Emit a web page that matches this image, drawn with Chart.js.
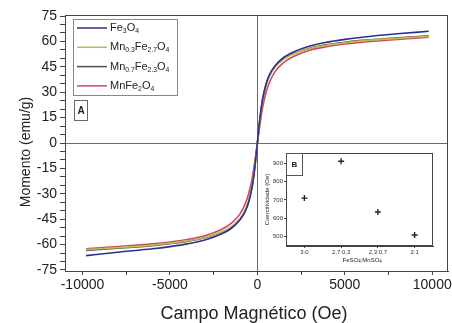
<!DOCTYPE html>
<html>
<head>
<meta charset="utf-8">
<script src="https://cdn.jsdelivr.net/npm/chart.js@4.4.0/dist/chart.umd.min.js"></script>
<style>
  html,body{margin:0;padding:0;background:#fff;}
  #wrap{position:relative;width:452px;height:323px;}
  #main{position:absolute;left:0;top:0;}
  #inset{position:absolute;left:255px;top:145px;}
</style>
</head>
<body>
<div id="wrap">
  <canvas id="main" width="452" height="323"></canvas>
  <canvas id="inset" width="190" height="125"></canvas>
</div>
<script>
// ---- Data ----
const fieldOe = [-9800,-8000,-6000,-5000,-4000,-3000,-2000,-1500,-1000,-700,-500,-300,-150,0,150,300,500,700,1000,1500,2000,3000,4000,5000,6000,8000,9800];
const seriesNames = ["Fe3O4", "Mn0.3Fe2.7O4", "Mn0.7Fe2.3O4", "MnFe2O4"];
const momentFe3O4   = [-66.5,-64.5,-62.5,-61.2,-59.6,-57.3,-53.5,-50.5,-45.5,-40.5,-35,-26,-15,0,15,26,35,40.5,45.5,50.5,53.5,57.3,59.6,61.2,62.5,64.5,66];
const momentMn03    = [-63,-61.8,-60.3,-59.2,-57.8,-55.8,-52.3,-49.5,-44.8,-39.8,-34.2,-25,-14,0,14,25,34.2,39.8,44.8,49.5,52.3,55.8,57.8,59.2,60.3,61.8,63];
const momentMn07    = [-63.5,-62.2,-60.6,-59.5,-58.1,-56,-52.5,-49.7,-45,-40,-34.5,-25.5,-14.5,0,14.5,25.5,34.5,40,45,49.7,52.5,56,58.1,59.5,60.6,62.2,63.3];
const momentMnFe2O4 = [-62.5,-61.2,-59.6,-58.5,-57,-54.8,-50.8,-47.5,-42,-36,-30,-21,-11,0,11,21,30,36,42,47.5,50.8,54.8,57,58.5,59.6,61.2,62.5];
const yTickLabels = [-75,-60,-45,-30,-15,0,15,30,45,60,75];
const xTickLabels = [-10000,-5000,0,5000,10000];

const insetCategories = ["3:0", "2,7:0,3", "2,3:0,7", "2:1"];
const coercivity = [710, 910, 635, 510];
const insetYTicks = [500, 600, 700, 800, 900];

const colors = ["#2f2f8f", "#b9bb55", "#505050", "#d0485a"];
const FONT = "'Liberation Sans', Arial, sans-serif";

function toPoints(ys){ return fieldOe.map((x,i)=>({x:x, y:ys[i]})); }
const allSeries = [momentFe3O4, momentMn03, momentMn07, momentMnFe2O4];

// draw chemical formula with subscripted numbers
function drawFormula(ctx, text, x, y, size){
  const parts = text.match(/[A-Za-z]+|[0-9.]+/g);
  let cx = x;
  parts.forEach(p=>{
    if (/^[0-9.]/.test(p)) {
      ctx.font = (size*0.62)+"px "+FONT;
      ctx.fillText(p, cx, y + size*0.3);
    } else {
      ctx.font = size+"px "+FONT;
      ctx.fillText(p, cx, y);
    }
    cx += ctx.measureText(p).width;
  });
}

const decor = {
  id: 'decor',
  beforeDatasetsDraw(chart){
    const {ctx, chartArea:a, scales:{x, y}} = chart;
    ctx.save();
    ctx.strokeStyle = '#6a6a6a';
    ctx.lineWidth = 1;
    const x0 = Math.round(x.getPixelForValue(0))+0.5;
    const y0 = Math.round(y.getPixelForValue(0))+0.5;
    ctx.beginPath();
    ctx.moveTo(x0, a.top); ctx.lineTo(x0, a.bottom);
    ctx.moveTo(a.left, y0); ctx.lineTo(a.right, y0);
    ctx.stroke();
    ctx.restore();
  },
  afterDraw(chart){
    const {ctx, chartArea:a} = chart;
    ctx.save();
    // frame
    ctx.strokeStyle = '#444';
    ctx.lineWidth = 1;
    ctx.strokeRect(a.left+0.5, a.top+0.5, a.right-a.left-1, a.bottom-a.top);
    // legend box
    ctx.strokeStyle = '#888';
    ctx.strokeRect(73.5, 19.5, 104, 76);
    chart.data.datasets.forEach((ds,i)=>{
      const yy = 28 + i*19.3;
      ctx.strokeStyle = ds.borderColor;
      ctx.lineWidth = 1.5;
      ctx.beginPath(); ctx.moveTo(77, yy); ctx.lineTo(107, yy); ctx.stroke();
      ctx.fillStyle = '#222';
      ctx.textBaseline = 'middle';
      ctx.textAlign = 'left';
      drawFormula(ctx, ds.label, 110, yy, 11);
    });
    // "A" box
    ctx.lineWidth = 1;
    ctx.strokeStyle = '#666';
    ctx.strokeRect(74.5, 100.5, 13, 20);
    ctx.fillStyle = '#222';
    ctx.font = "bold 10px "+FONT;
    ctx.textAlign = 'center'; ctx.textBaseline = 'middle';
    ctx.fillText("A", 81, 111);
    // axis titles
    ctx.font = "18px "+FONT;
    ctx.fillStyle = '#222';
    ctx.fillText("Campo Magnético (Oe)", 254, 314);
    ctx.font = "14px "+FONT;
    ctx.translate(26, 152);
    ctx.rotate(-Math.PI/2);
    ctx.fillText("Momento (emu/g)", 0, 0);
    ctx.restore();
  }
};

new Chart(document.getElementById('main'), {
  type: 'line',
  data: {
    datasets: allSeries.map((s,i)=>({
      label: seriesNames[i],
      data: toPoints(s),
      borderColor: colors[i],
      backgroundColor: colors[i],
      borderWidth: 1.6,
      pointRadius: 0,
      cubicInterpolationMode: 'monotone',
      fill: false
    }))
  },
  options: {
    responsive: false,
    animation: false,
    devicePixelRatio: 1,
    layout: { padding: { top: 15, right: 4, left: 0, bottom: 0 } },
    plugins: { legend: { display: false }, tooltip: { enabled: false } },
    scales: {
      x: {
        type: 'linear', min: -11000, max: 10900,
        afterFit(s){ s.height = 52; s.paddingRight = 0; s.paddingLeft = 0; },
        afterBuildTicks(s){
          const t = [];
          for (let v=-10000; v<=10000; v+=2500) t.push({value:v});
          s.ticks = t;
        },
        ticks: {
          autoSkip: false, maxRotation: 0, padding: 2,
          color: '#222', font: { family: FONT, size: 14 },
          callback: v => xTickLabels.includes(v) ? String(v) : ''
        },
        grid: { display: true, drawOnChartArea: false, tickLength: 4, color: '#444' },
        border: { display: true, color: '#444' }
      },
      y: {
        type: 'linear', min: -75.6, max: 75.6,
        afterFit(s){ s.width = 65; s.paddingTop = 0; s.paddingBottom = 0; },
        afterBuildTicks(s){
          const t = [];
          for (let v=-75; v<=75; v+=5) t.push({value:v});
          s.ticks = t;
        },
        ticks: {
          autoSkip: false, padding: 3,
          color: '#222', font: { family: FONT, size: 14 },
          callback: v => yTickLabels.includes(v) ? String(v) : ''
        },
        grid: { display: true, drawOnChartArea: false, tickLength: 5, color: '#444' },
        border: { display: true, color: '#444' }
      }
    }
  },
  plugins: [decor]
});

// ---- Inset chart B ----
const insetDecor = {
  id: 'insetDecor',
  beforeDraw(chart){
    const {ctx, chartArea:a} = chart;
    ctx.save();
    ctx.fillStyle = '#fff';
    ctx.fillRect(a.left, a.top, a.right-a.left, a.bottom-a.top);
    ctx.restore();
  },
  afterDraw(chart){
    const {ctx, chartArea:a} = chart;
    ctx.save();
    ctx.strokeStyle = '#444'; ctx.lineWidth = 1;
    ctx.strokeRect(a.left+0.5, a.top+0.5, a.right-a.left-1, a.bottom-a.top-1);
    ctx.strokeStyle = '#555';
    ctx.strokeRect(a.left+0.5, a.top+0.5, 16, 22);
    ctx.fillStyle = '#222';
    ctx.font = "bold 8px "+FONT;
    ctx.textAlign = 'center'; ctx.textBaseline = 'middle';
    ctx.fillText("B", a.left+8.5, a.top+11.5);
    // titles
    const cx = (a.left+a.right)/2 - 17;
    ctx.textAlign = 'left';
    ctx.font = "6px "+FONT;
    ctx.fillText("FeSO", cx, 115);
    let w = ctx.measureText("FeSO").width;
    ctx.font = "4.5px "+FONT;
    ctx.fillText("4", cx + w, 116.8);
    w += ctx.measureText("4").width;
    ctx.font = "6px "+FONT;
    ctx.fillText(":MnSO", cx + w, 115);
    w += ctx.measureText(":MnSO").width;
    ctx.font = "4.5px "+FONT;
    ctx.fillText("4", cx + w, 116.8);
    ctx.font = "6px "+FONT;
    ctx.textAlign = 'center';
    ctx.translate(12, (a.top+a.bottom)/2);
    ctx.rotate(-Math.PI/2);
    ctx.fillText("Coercitividade (Oe)", 0, 0);
    ctx.restore();
  }
};

new Chart(document.getElementById('inset'), {
  type: 'line',
  data: {
    labels: insetCategories,
    datasets: [{
      data: coercivity,
      showLine: false,
      pointStyle: 'cross',
      pointRadius: 3,
      borderColor: '#222',
      backgroundColor: '#222',
      borderWidth: 1.4
    }]
  },
  options: {
    responsive: false,
    animation: false,
    devicePixelRatio: 1,
    layout: { padding: { top: 8, right: 12, left: 0, bottom: 0 } },
    plugins: { legend: { display: false }, tooltip: { enabled: false } },
    scales: {
      x: {
        type: 'category', offset: true,
        afterFit(s){ s.height = 24; },
        ticks: { color: '#333', font: { family: FONT, size: 6 }, padding: 1, maxRotation: 0 },
        grid: { display: true, drawOnChartArea: false, tickLength: 2, color: '#444', offset: false },
        border: { color: '#444' }
      },
      y: {
        type: 'linear', min: 450, max: 955,
        afterFit(s){ s.width = 31; },
        afterBuildTicks(s){ s.ticks = insetYTicks.map(v=>({value:v})); },
        ticks: { color: '#333', font: { family: FONT, size: 6 }, padding: 1 },
        grid: { display: true, drawOnChartArea: false, tickLength: 2, color: '#444' },
        border: { color: '#444' }
      }
    }
  },
  plugins: [insetDecor]
});
</script>
</body>
</html>
